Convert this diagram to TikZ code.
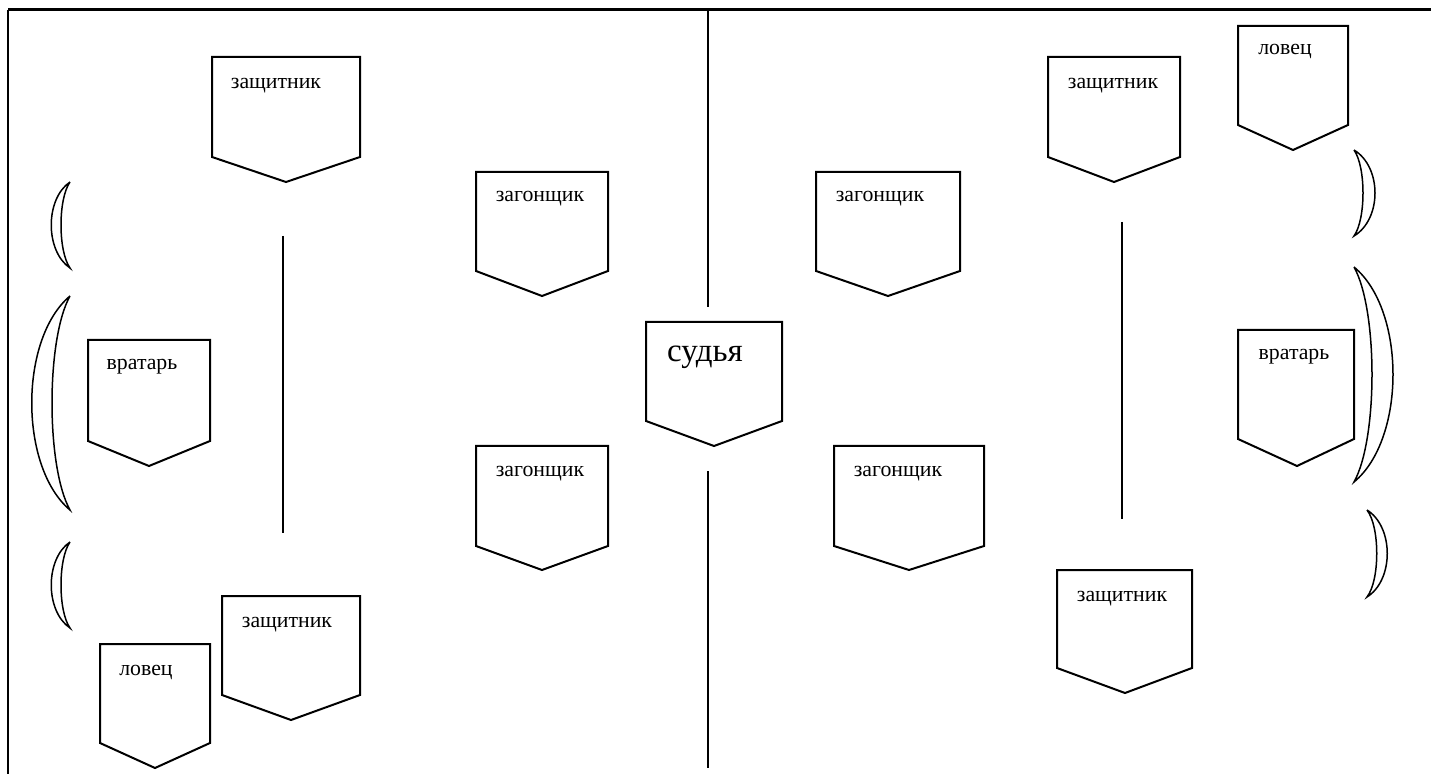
\documentclass[tikz,border=0pt]{standalone}
\usepackage{fontspec}
\setmainfont{Liberation Serif}
\tikzstyle{shield}=[draw=black,line width=1pt,line join=miter]
\tikzstyle{role}=[anchor=base,inner sep=0pt,font=\fontsize{10.9}{12}\selectfont]
\tikzstyle{judge}=[anchor=base,inner sep=0pt,font=\fontsize{16.5}{19}\selectfont]
\tikzstyle{moon}=[draw=black,line width=0.75pt]
\tikzstyle{fieldline}=[draw=black,line width=1pt]

\begin{document}
\begin{tikzpicture}[x=0.5pt,y=-0.5pt]
  \useasboundingbox (0,0) rectangle (1431,775);
  % frame
  \draw[line width=1.5pt] (8,10) -- (1431,10);
  \draw[fieldline] (8,10) -- (8,774);
  % left half
  \draw[shield] (212,57) -- (360,57) -- (360,157) -- (286,182) -- (212,157) -- cycle;
  \node[role] (DefenderA) at (276,89) {защитник};
  \draw[shield] (476,172) -- (608,172) -- (608,271) -- (542,296) -- (476,271) -- cycle;
  \node[role] (DriverA) at (540,202) {загонщик};
  \draw[shield] (476,446) -- (608,446) -- (608,546) -- (542,570) -- (476,546) -- cycle;
  \node[role] (DriverB) at (540,477) {загонщик};
  \draw[shield] (88,340) -- (210,340) -- (210,441) -- (149,466) -- (88,441) -- cycle;
  \node[role] (GoalieA) at (142,370) {вратарь};
  \draw[shield] (222,596) -- (360,596) -- (360,695) -- (291,720) -- (222,695) -- cycle;
  \node[role] (DefenderB) at (287,627) {защитник};
  \draw[shield] (100,644) -- (210,644) -- (210,743) -- (155,768) -- (100,743) -- cycle;
  \node[role] (CatcherA) at (146,675) {ловец};
  % middle
  \draw[shield] (646,322) -- (782,322) -- (782,421) -- (714,446) -- (646,421) -- cycle;
  \node[judge] (Judge) at (705,362) {судья};
  % right half
  \draw[shield] (816,172) -- (960,172) -- (960,271) -- (888,296) -- (816,271) -- cycle;
  \node[role] (DriverC) at (880,202) {загонщик};
  \draw[shield] (834,446) -- (984,446) -- (984,546) -- (909,570) -- (834,546) -- cycle;
  \node[role] (DriverD) at (898,477) {загонщик};
  \draw[shield] (1048,57) -- (1180,57) -- (1180,157) -- (1114,182) -- (1048,157) -- cycle;
  \node[role] (DefenderC) at (1113,89) {защитник};
  \draw[shield] (1238,26) -- (1348,26) -- (1348,125) -- (1293,150) -- (1238,125) -- cycle;
  \node[role] (CatcherB) at (1285,55) {ловец};
  \draw[shield] (1238,330) -- (1354,330) -- (1354,439) -- (1297,466) -- (1238,439) -- cycle;
  \node[role] (GoalieB) at (1294,360) {вратарь};
  \draw[shield] (1057,570) -- (1192,570) -- (1192,668) -- (1125,693) -- (1057,668) -- cycle;
  \node[role] (DefenderD) at (1122,601) {защитник};
  % lines
  \draw[fieldline] (708,10) -- (708,307);
  \draw[fieldline] (708,471) -- (708,768);
  \draw[fieldline] (283,236) -- (283,533);
  \draw[fieldline] (1122,222) -- (1122,519);
  % crescents
  \draw[moon] (70,182) .. controls (45,199) and (45,251) .. (70,268)
              .. controls (58,251) and (58,199) .. (70,182);
  \draw[moon] (70,296) .. controls (19,339) and (19,467) .. (70,510)
              .. controls (46,467) and (46,339) .. (70,296);
  \draw[moon] (70,542) .. controls (45,559) and (45,611) .. (70,628)
              .. controls (58,611) and (58,559) .. (70,542);
  \draw[moon] (1354,150) .. controls (1382,167) and (1382,219) .. (1354,236)
              .. controls (1366,219) and (1366,167) .. (1354,150);
  \draw[moon] (1354,267) .. controls (1406,310) and (1406,439) .. (1354,482)
              .. controls (1378,439) and (1378,310) .. (1354,267);
  \draw[moon] (1367,510) .. controls (1394,527) and (1394,580) .. (1367,597)
              .. controls (1380,580) and (1380,527) .. (1367,510);
\end{tikzpicture}
\end{document}
